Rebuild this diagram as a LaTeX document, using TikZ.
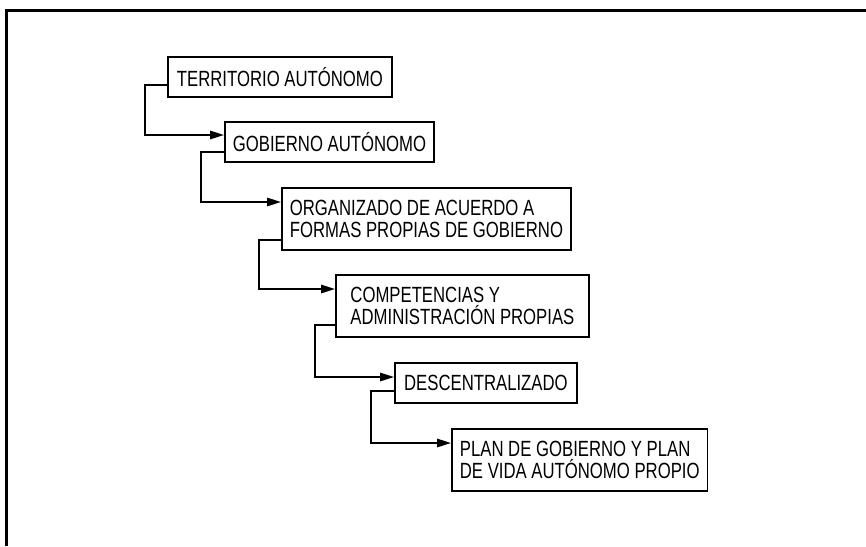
\documentclass[tikz,border=0pt]{standalone}
\usepackage{fontspec}
\setmainfont{Liberation Sans}[FakeStretch=0.76]
\usetikzlibrary{calc,arrows.meta}
\tikzset{
  stage/.style={draw,line width=0.9pt,anchor=north west,align=left,
    inner xsep=4pt,inner ysep=0pt,minimum height=20pt,
    font=\fontsize{11}{11}\selectfont},
  double/.style={minimum height=31pt},
  link/.style={line width=0.9pt,-{Triangle[length=7pt,width=4.2pt]}}
}
\begin{document}
\begin{tikzpicture}[x=0.5pt,y=-0.5pt]
\useasboundingbox (0,0) rectangle (866,546);
\draw[line width=1.5pt] (6,546) -- (6,10) -- (866,10);
\node[stage,minimum width=112pt] (territorio) at (167,56) {TERRITORIO AUTÓNOMO};
\node[stage] (gobierno) at (224,121) {GOBIERNO AUTÓNOMO};
\node[stage,double] (organizado) at (281,187)
  {ORGANIZADO DE ACUERDO A\\FORMAS PROPIAS DE GOBIERNO};
\node[stage,double,minimum width=126.5pt] (competencias) at (335,274)
  {COMPETENCIAS Y\\ADMINISTRACIÓN PROPIAS};
\node[stage,minimum width=91pt] (descentral) at (394,362) {DESCENTRALIZADO};
\node[stage,double] (plan) at (451,428)
  {PLAN DE GOBIERNO Y PLAN\\DE VIDA AUTÓNOMO PROPIO};
\draw[link] ($(territorio.south west)+(0,-13)$) -- ++(-22,0)
  |- ($(gobierno.north west)+(0,14)$);
\draw[link] ($(gobierno.south west)+(0,-11)$) -- ++(-23,0)
  |- ($(organizado.north west)+(0,15)$);
\draw[link] ($(organizado.south west)+(0,-11)$) -- ++(-22,0)
  |- ($(competencias.north west)+(0,15)$);
\draw[link] ($(competencias.south west)+(0,-13)$) -- ++(-20,0)
  |- ($(descentral.north west)+(0,15)$);
\draw[link] ($(descentral.south west)+(0,-13)$) -- ++(-23,0)
  |- ($(plan.north west)+(0,15)$);
\end{tikzpicture}
\end{document}
